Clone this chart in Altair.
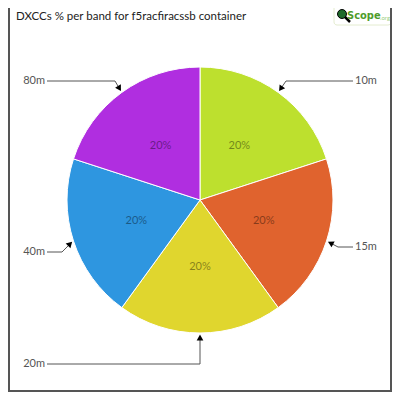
import altair as alt
import pandas as pd

# ---- data ----
bands = ["10m", "15m", "20m", "40m", "80m"]
shares = [20, 20, 20, 20, 20]
colors = ["#bde02e", "#e0632e", "#e0d62e", "#2e96e0", "#b02ee0"]
title_text = "DXCCs % per band for f5racfiracssb container"

# ---- annotation layout (label side / label row / leader elbow) ----
label_side = ["right", "right", "left", "left", "left"]
label_row = [73, 239, 356, 244, 73]
elbow_x = [278, 330, 192, 54, 107]

FONT = "Lato"
CX, CY, R = 192, 192, 133
W, H = 384, 384

df = pd.DataFrame({
    "band": bands,
    "share": shares,
    "order": list(range(len(bands))),
    "side": label_side,
    "ly": label_row,
    "ex": elbow_x,
})

base = (
    alt.Chart(df)
    .transform_window(cum="sum(share)", sort=[alt.SortField("order")], frame=[None, 0])
    .transform_joinaggregate(total="sum(share)")
    .transform_calculate(
        mid="2*PI*(datum.cum - datum.share/2)/datum.total",
        tx=f"{CX} + {R+1}*sin(datum.mid)",
        ty=f"{CY} - {R+1}*cos(datum.mid)",
        px=f"{CX} + 67*sin(datum.mid)",
        py=f"{CY} - 67*cos(datum.mid)",
        lx="datum.side == 'right' ? 345 : 39",
        textx="datum.side == 'right' ? 347 : 37",
        pct="format(datum.share/datum.total, '.0%')",
    )
    .transform_calculate(
        dx="datum.tx - datum.ex",
        dy="datum.ty - datum.ly",
    )
    .transform_calculate(
        len="sqrt(datum.dx*datum.dx + datum.dy*datum.dy)",
        ang="(atan2(datum.dx, -datum.dy)*180/PI + 360) % 360",
    )
    .transform_calculate(
        ax="datum.tx - 3.5*datum.dx/datum.len",
        ay="datum.ty - 3.5*datum.dy/datum.len",
    )
)

arcs = base.mark_arc(outerRadius=R, stroke="white", strokeWidth=1).encode(
    x=alt.value(CX),
    y=alt.value(CY),
    theta=alt.Theta("share:Q", stack=True),
    order=alt.Order("order:Q"),
    color=alt.Color("band:N", scale=alt.Scale(domain=bands, range=colors), legend=None),
)

pct_text = base.mark_text(font=FONT, fontSize=11, color="black", opacity=0.4).encode(
    x=alt.X("px:Q", scale=None),
    y=alt.Y("py:Q", scale=None),
    text="pct:N",
)

leader_h = base.mark_rule(color="#555", strokeWidth=1).encode(
    x=alt.X("lx:Q", scale=None),
    x2="ex:Q",
    y=alt.Y("ly:Q", scale=None),
    y2="ly:Q",
)

leader_d = base.mark_rule(color="#555", strokeWidth=1).encode(
    x=alt.X("ex:Q", scale=None),
    x2="ax:Q",
    y=alt.Y("ly:Q", scale=None),
    y2="ay:Q",
)

arrows = base.mark_point(shape="triangle-up", filled=True, size=45, color="black", opacity=1).encode(
    x=alt.X("ax:Q", scale=None),
    y=alt.Y("ay:Q", scale=None),
    angle=alt.Angle("ang:Q", scale=None),
)

labels_right = base.transform_filter("datum.side == 'right'").mark_text(
    font=FONT, fontSize=11, color="#555", align="left", baseline="middle"
).encode(x=alt.X("textx:Q", scale=None), y=alt.Y("ly:Q", scale=None), text="band:N")

labels_left = base.transform_filter("datum.side == 'left'").mark_text(
    font=FONT, fontSize=11, color="#555", align="right", baseline="middle"
).encode(x=alt.X("textx:Q", scale=None), y=alt.Y("ly:Q", scale=None), text="band:N")

one = alt.Chart(pd.DataFrame({"t": [title_text]}))

title = one.mark_text(font=FONT, fontSize=11.5, color="#222", align="left", baseline="middle").encode(
    x=alt.value(8), y=alt.value(9), text="t:N"
)

# logo
logo_box = one.mark_rect(fill="white", stroke="#e4ecd0", strokeWidth=1, cornerRadius=3).encode(
    x=alt.value(326), x2=alt.value(383), y=alt.value(-5), y2=alt.value(17)
)
logo_handle = one.mark_rule(color="black", strokeWidth=2.5).encode(
    x=alt.value(337), x2=alt.value(342), y=alt.value(9), y2=alt.value(14)
)
logo_glass = one.mark_point(shape="circle", filled=True, size=80, color="#1f6a2a", stroke="black", strokeWidth=1, opacity=1).encode(
    x=alt.value(334), y=alt.value(6)
)
logo_text = one.mark_text(font="DejaVu Sans Condensed", fontSize=11, fontWeight="bold", color="#4f9c2c", align="left", baseline="middle").encode(
    x=alt.value(339), y=alt.value(7.5), text=alt.value("Scope")
)
logo_org = one.mark_text(font=FONT, fontSize=6, color="#9ccf80", align="left", baseline="middle").encode(
    x=alt.value(372), y=alt.value(10), text=alt.value(".org")
)

# frame
frame_r = one.mark_rule(color="#555", strokeWidth=2).encode(
    x=alt.value(W - 1), y=alt.value(0), y2=alt.value(H)
)
frame_b = one.mark_rule(color="#555", strokeWidth=2).encode(
    x=alt.value(0), x2=alt.value(W), y=alt.value(H - 1)
)
frame_l = one.mark_rule(color="#555", strokeWidth=2).encode(
    x=alt.value(1), y=alt.value(0), y2=alt.value(H)
)

chart = alt.layer(
    arcs, pct_text, leader_h, leader_d, arrows, labels_right, labels_left,
    title, logo_box, logo_handle, logo_glass, logo_text, logo_org,
    frame_r, frame_b, frame_l,
).properties(
    width=W,
    height=H,
    autosize="none",
    padding=0,
).configure_view(stroke=None)

chart.save("out.html", embed_options={"renderer": "svg", "actions": False})
